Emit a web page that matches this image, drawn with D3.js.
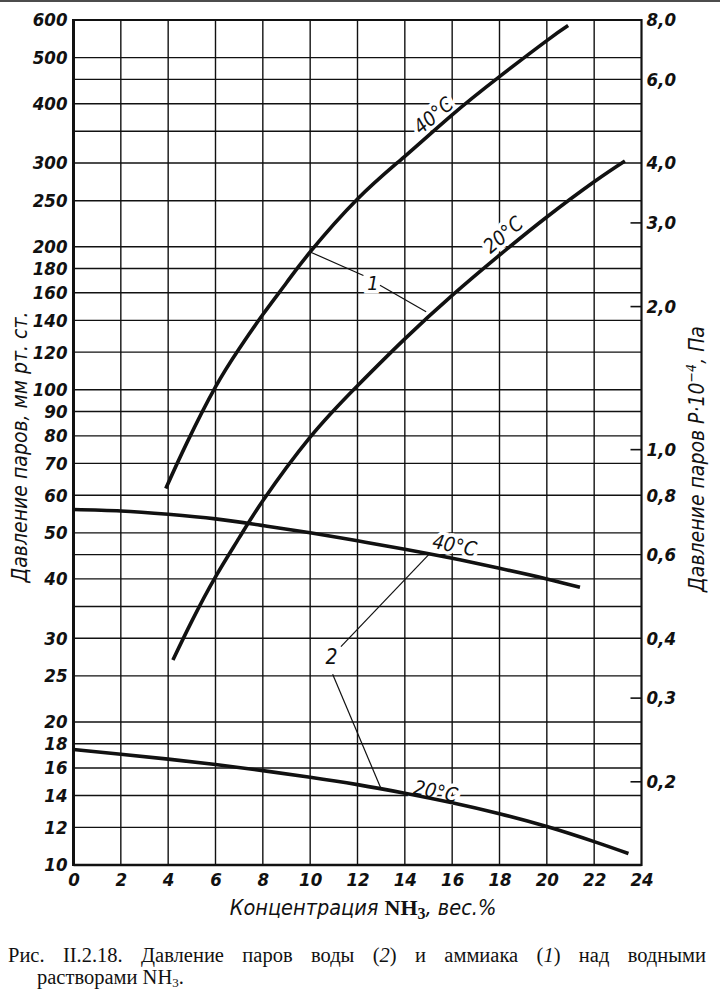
<!DOCTYPE html>
<html>
<head>
<meta charset="utf-8">
<script src="https://cdn.jsdelivr.net/npm/d3@7"></script>
<style>
  body { margin: 0; background: #fff; }
  svg { display: block; }
  .tick text {
    font-family: "DejaVu Sans Condensed", "DejaVu Sans", sans-serif;
    font-style: oblique;
    font-weight: bold;
    font-size: 18.5px;
    fill: #111;
  }
  .lbl {
    font-family: "DejaVu Sans Condensed", "DejaVu Sans", sans-serif;
    font-style: oblique;
    fill: #111;
  }
</style>
</head>
<body>
<div id="chart"></div>
<script>
// NH3 partial pressure (curve 1), mm Hg
const nh3_40_x = [3.9, 4.8, 6, 7, 8, 9, 10, 12, 14, 16, 18, 20, 20.9];
const nh3_40_p = [62, 77.5, 101.4, 122, 144, 168, 195, 252, 310, 379, 456, 543, 584];
const nh3_20_x = [4.2, 5, 6, 7, 8, 10, 12, 14, 16, 18, 20, 22, 23.3];
const nh3_20_p = [27, 32.6, 40.4, 48.8, 58.4, 79.5, 102, 128, 158, 192, 231, 274, 303];

// water vapour pressure (curve 2), mm Hg
const h2o_40_x = [0, 2, 4, 6, 8, 10, 12, 14, 16, 18, 20, 21.4];
const h2o_40_p = [56, 55.6, 54.7, 53.5, 51.8, 50, 48.1, 46.2, 44.2, 42.1, 40, 38.4];
const h2o_20_x = [0, 2, 4, 6, 8, 10, 12, 14, 16, 18, 20, 22, 23.45];
const h2o_20_p = [17.5, 17.1, 16.7, 16.27, 15.8, 15.3, 14.76, 14.16, 13.52, 12.82, 12.05, 11.2, 10.57];

// axes
const xTicks = [0, 2, 4, 6, 8, 10, 12, 14, 16, 18, 20, 22, 24];
const mmTicks = [10, 12, 14, 16, 18, 20, 25, 30, 40, 50, 60, 70, 80, 90, 100,
                 120, 140, 160, 180, 200, 250, 300, 400, 500, 600];
const mmGridExtra = [35, 45, 350, 450];
const paTicks = [0.2, 0.3, 0.4, 0.6, 0.8, 1.0, 2.0, 3.0, 4.0, 6.0, 8.0];
const paShortTicks = [0.2, 0.3, 1.0, 2.0, 3.0];
const MMHG_PA = 133.322;

const ctx = { w: 720, h: 993, left: 73.5, right: 641.5, top: 20, bottom: 865 };

const svg = d3.select("#chart").append("svg")
  .attr("width", ctx.w)
  .attr("height", ctx.h);

const x = d3.scaleLinear().domain([0, 24]).range([ctx.left, ctx.right]);
const y = d3.scaleLog().domain([10, 600]).range([ctx.bottom, ctx.top]);
const yPa = d3.scaleLog()
  .domain([10 * MMHG_PA / 1e4, 600 * MMHG_PA / 1e4])
  .range([ctx.bottom, ctx.top]);

// scan edge at the very top
svg.append("line")
  .attr("x1", 0).attr("x2", ctx.w).attr("y1", 1).attr("y2", 1)
  .attr("stroke", "#111").attr("stroke-width", 1.5);

// grid
const grid = svg.append("g").attr("stroke", "#111").attr("stroke-width", 1.4);
grid.selectAll("line.h")
  .data(mmTicks.concat(mmGridExtra))
  .join("line")
  .attr("x1", ctx.left).attr("x2", ctx.right)
  .attr("y1", d => y(d)).attr("y2", d => y(d));
grid.selectAll("line.v")
  .data(xTicks.slice(1, -1))
  .join("line")
  .attr("x1", d => x(d)).attr("x2", d => x(d))
  .attr("y1", ctx.top).attr("y2", ctx.bottom);

// frame
svg.append("line").attr("x1", ctx.left).attr("x2", ctx.left)
  .attr("y1", ctx.top - 1).attr("y2", ctx.bottom + 1)
  .attr("stroke", "#111").attr("stroke-width", 3);
svg.append("line").attr("x1", ctx.right).attr("x2", ctx.right)
  .attr("y1", ctx.top - 1).attr("y2", ctx.bottom + 1)
  .attr("stroke", "#111").attr("stroke-width", 2.2);
svg.append("line").attr("x1", ctx.left).attr("x2", ctx.right)
  .attr("y1", ctx.bottom).attr("y2", ctx.bottom)
  .attr("stroke", "#111").attr("stroke-width", 2.6);
svg.append("line").attr("x1", ctx.left).attr("x2", ctx.right)
  .attr("y1", ctx.top).attr("y2", ctx.top)
  .attr("stroke", "#111").attr("stroke-width", 2.2);

// left axis labels
svg.append("g")
  .attr("transform", `translate(${ctx.left},0)`)
  .call(d3.axisLeft(y).tickValues(mmTicks).tickFormat(d => String(d)).tickSize(0).tickPadding(6))
  .call(g => g.select(".domain").remove());

// right axis labels (P·10^-4, Pa)
svg.append("g")
  .attr("transform", `translate(${ctx.right},0)`)
  .call(d3.axisRight(yPa).tickValues(paTicks)
    .tickFormat(d => d.toFixed(1).replace(".", ",")).tickSize(0).tickPadding(5))
  .call(g => g.select(".domain").remove());

// short inward ticks on the right axis
svg.append("g")
  .attr("transform", `translate(${ctx.right},0)`)
  .call(d3.axisLeft(yPa).tickValues(paShortTicks).tickFormat("").tickSize(11))
  .call(g => g.select(".domain").remove())
  .call(g => g.selectAll("line").attr("stroke", "#111").attr("stroke-width", 1.6));

// x axis labels
svg.append("g")
  .attr("transform", `translate(0,${ctx.bottom})`)
  .call(d3.axisBottom(x).tickValues(xTicks).tickSize(0).tickPadding(8))
  .call(g => g.select(".domain").remove());

// curve labels (white halo cuts the grid like in print)
function label(txt, xv, pv, angle, size) {
  svg.append("text")
    .attr("class", "lbl")
    .attr("transform", `translate(${x(xv)},${y(pv)}) rotate(${angle})`)
    .attr("text-anchor", "middle")
    .attr("dy", "0.35em")
    .attr("font-size", size)
    .attr("stroke", "#fff").attr("stroke-width", 7)
    .attr("paint-order", "stroke")
    .text(txt);
}
label("40°C", 15.2, 378, -40, 20);
label("20°C", 18.15, 212, -40, 20);
label("40°C", 16.1, 47.1, 11, 20);
label("20°C", 15.3, 14.3, 11, 20);
label("1", 12.65, 168, 0, 20);
label("2", 10.9, 27.4, 0, 21);

// leader lines
const leaders = [
  [[10.0, 195], [12.25, 174]],
  [[12.95, 166], [14.9, 146]],
  [[11.3, 28.8], [15.05, 45.2]],
  [[10.95, 25.2], [13.0, 14.45]]
];
svg.append("g")
  .selectAll("line")
  .data(leaders)
  .join("line")
  .attr("x1", d => x(d[0][0])).attr("y1", d => y(d[0][1]))
  .attr("x2", d => x(d[1][0])).attr("y2", d => y(d[1][1]))
  .attr("stroke", "#111").attr("stroke-width", 1.2);

// curves
const line = d3.line()
  .x(d => x(d[0]))
  .y(d => y(d[1]))
  .curve(d3.curveNatural);
const series = [
  d3.zip(nh3_40_x, nh3_40_p),
  d3.zip(nh3_20_x, nh3_20_p),
  d3.zip(h2o_40_x, h2o_40_p),
  d3.zip(h2o_20_x, h2o_20_p)
];
svg.append("g")
  .selectAll("path")
  .data(series)
  .join("path")
  .attr("fill", "none")
  .attr("stroke", "#111")
  .attr("stroke-width", 3.6)
  .attr("stroke-linecap", "butt")
  .attr("d", line);

// axis titles
svg.append("text")
  .attr("class", "lbl")
  .attr("transform", "translate(27,447) rotate(-90)")
  .attr("text-anchor", "middle")
  .attr("font-size", 21)
  .text("Давление паров, мм рт. ст.");

const rt = svg.append("text")
  .attr("class", "lbl")
  .attr("transform", "translate(704,459) rotate(-90)")
  .attr("text-anchor", "middle")
  .attr("font-size", 21);
rt.append("tspan").text("Давление паров P·10");
rt.append("tspan").attr("dy", -8).attr("font-size", 14).text("−4");
rt.append("tspan").attr("dy", 8).text(", Па");

const xt = svg.append("text")
  .attr("class", "lbl")
  .attr("x", 363).attr("y", 915)
  .attr("text-anchor", "middle")
  .attr("font-size", 21.5);
xt.append("tspan").text("Концентрация ");
xt.append("tspan")
  .attr("font-family", "Liberation Serif, serif").attr("font-style", "normal")
  .attr("font-weight", "bold").attr("font-size", 22).text("NH");
xt.append("tspan")
  .attr("font-family", "Liberation Serif, serif").attr("font-style", "normal")
  .attr("font-weight", "bold").attr("font-size", 16).attr("dy", 4).text("3");
xt.append("tspan").attr("dy", -4).text(", вес.%");

// caption, first line justified by spreading the words
const cap = svg.append("g")
  .attr("font-family", "Liberation Serif, 'Times New Roman', serif")
  .attr("font-size", 20.5)
  .attr("fill", "#111");
const capWords = [
  [["Рис.", false]], [["II.2.18.", false]], [["Давление", false]], [["паров", false]],
  [["воды", false]], [["(", false], ["2", true], [")", false]], [["и", false]],
  [["аммиака", false]], [["(", false], ["1", true], [")", false]], [["над", false]],
  [["водными", false]]
];
const c1 = cap.append("text").attr("y", 962);
const wordNodes = capWords.map(parts => {
  const w = c1.append("tspan");
  parts.forEach(([t, it]) => {
    const s = w.append("tspan").text(t);
    if (it) s.attr("font-style", "italic");
  });
  return w;
});
const widths = wordNodes.map(w => w.node().getComputedTextLength());
const gap = (706 - 8 - d3.sum(widths)) / (widths.length - 1);
let cx = 8;
wordNodes.forEach((w, i) => {
  w.attr("x", cx);
  cx += widths[i] + gap;
});
const c2 = cap.append("text").attr("x", 37).attr("y", 984);
c2.append("tspan").text("растворами NH");
c2.append("tspan").attr("font-size", 13).attr("dy", 3).text("3");
c2.append("tspan").attr("dy", -3).text(".");
</script>
</body>
</html>
